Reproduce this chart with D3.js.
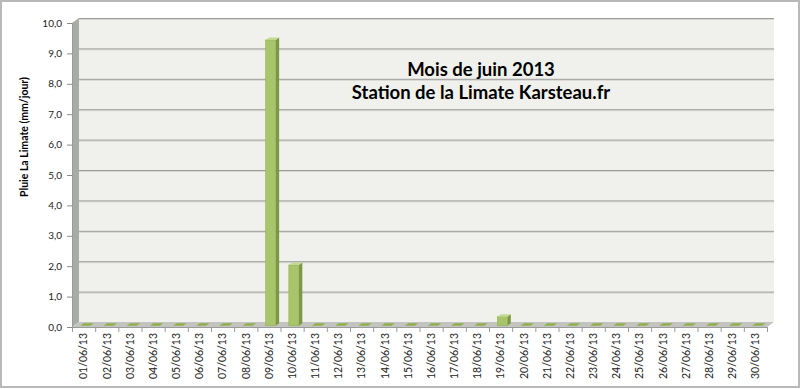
<!DOCTYPE html>
<html>
<head>
<meta charset="utf-8">
<script src="https://cdn.jsdelivr.net/npm/d3@7"></script>
<style>
  body { margin: 0; background: #fff; }
  svg { display: block; font-family: Lato, "Open Sans", sans-serif; }
</style>
</head>
<body>
<div id="chart"></div>
<script>
// Daily rain, June 2013
const days = ["01/06/13", "02/06/13", "03/06/13", "04/06/13", "05/06/13", "06/06/13",
  "07/06/13", "08/06/13", "09/06/13", "10/06/13", "11/06/13", "12/06/13",
  "13/06/13", "14/06/13", "15/06/13", "16/06/13", "17/06/13", "18/06/13",
  "19/06/13", "20/06/13", "21/06/13", "22/06/13", "23/06/13", "24/06/13",
  "25/06/13", "26/06/13", "27/06/13", "28/06/13", "29/06/13", "30/06/13"];
const rain = [0, 0, 0, 0, 0, 0, 0, 0, 9.4, 2.0, 0, 0, 0, 0, 0, 0, 0, 0,
  0.3, 0, 0, 0, 0, 0, 0, 0, 0, 0, 0, 0];
const yTicks = [0, 1, 2, 3, 4, 5, 6, 7, 8, 9, 10];
const titleLines = ["Mois de juin 2013", "Station de la Limate Karsteau.fr"];
const yTitle = "Pluie La Limate (mm/jour)";

const W = 800, H = 389;
const depthX = 7, depthY = -5; // 3D depth offset of the back wall

const svg = d3.select("#chart").append("svg")
    .attr("width", W)
    .attr("height", H);

// outer frame
svg.append("rect")
    .attr("x", 1).attr("y", 1)
    .attr("width", W - 2).attr("height", H - 3)
    .attr("fill", "#fff")
    .attr("stroke", "#b9b9b9")
    .attr("stroke-width", 2);

const x = d3.scaleBand().domain(days).range([72, 767]);
const y = d3.scaleLinear().domain([0, 10]).range([327, 23]);

const x0 = x.range()[0], x1 = x.range()[1];
const yb = v => y(v) + depthY; // back wall y

// side wall (left)
svg.append("polygon")
    .attr("points", [[x0, y(0)], [x0, y(10)], [x0 + depthX, yb(10)], [x0 + depthX, yb(0)]].join(" "))
    .attr("fill", "#a9aca5");

// back wall
svg.append("rect")
    .attr("x", x0 + depthX).attr("y", yb(10))
    .attr("width", x1 - x0).attr("height", yb(0) - yb(10))
    .attr("fill", "#f0f1ed");

// gridlines on back wall
const grid = svg.append("g");
yTicks.filter(d => d > 0).forEach(v => {
    grid.append("line")
        .attr("x1", x0 + depthX).attr("x2", x1 + depthX)
        .attr("y1", yb(v) + 1.5).attr("y2", yb(v) + 1.5)
        .attr("stroke", "#d6d7d3").attr("stroke-width", 1);
    grid.append("line")
        .attr("x1", x0 + depthX).attr("x2", x1 + depthX)
        .attr("y1", yb(v) + 0.5).attr("y2", yb(v) + 0.5)
        .attr("stroke", "#9c9d9a").attr("stroke-width", 1);
});

// floor
svg.append("polygon")
    .attr("points", [[x0, y(0)], [x1, y(0)], [x1 + depthX, yb(0)], [x0 + depthX, yb(0)]].join(" "))
    .attr("fill", "#c3c4bf");

// y axis ticks and labels
const yAxis = svg.append("g");
yTicks.forEach(v => {
    yAxis.append("line")
        .attr("x1", x0 - 5).attr("x2", x0)
        .attr("y1", y(v) + 0.5).attr("y2", y(v) + 0.5)
        .attr("stroke", "#8c8c8c");
    yAxis.append("text")
        .attr("x", 62)
        .attr("y", y(v) + 3.5)
        .attr("text-anchor", "end")
        .attr("font-size", "10px")
        .attr("fill", "#222")
        .text(d3.format(".1f")(v).replace(".", ","));
});
yAxis.append("line")
    .attr("x1", x0 + 0.5).attr("x2", x0 + 0.5)
    .attr("y1", y(10)).attr("y2", y(0))
    .attr("stroke", "#9a9a9a");

// x axis ticks and labels
const xAxis = svg.append("g");
xAxis.append("line")
    .attr("x1", x0).attr("x2", x1)
    .attr("y1", y(0) + 0.5).attr("y2", y(0) + 0.5)
    .attr("stroke", "#9a9a9a");
days.concat([null]).forEach((d, i) => {
    const xt = d === null ? x1 : x(d);
    xAxis.append("line")
        .attr("x1", xt + 0.5).attr("x2", xt + 0.5)
        .attr("y1", y(0)).attr("y2", y(0) + 5)
        .attr("stroke", "#9a9a9a");
});
days.forEach(d => {
    const cx = x(d) + x.bandwidth() / 2 + 3.8;
    xAxis.append("text")
        .attr("transform", `translate(${cx},333) rotate(-90)`)
        .attr("text-anchor", "end")
        .attr("font-size", "10.5px")
        .attr("fill", "#222")
        .text(d);
});

// 3D columns
const barW = x.bandwidth() * 0.43;
const tF = 0.25, tB = 0.75; // front / back depth fraction of the bar
const bars = svg.append("g");
days.forEach((d, i) => {
    const v = rain[i];
    const xl = x(d) + x.bandwidth() / 2 - barW / 2 + depthX * tF;
    const xr = xl + barW;
    const yBot = y(0) + depthY * tF;
    const yTop = y(v) + depthY * tF;
    const ddx = depthX * (tB - tF), ddy = depthY * (tB - tF);
    if (v > 0) {
        // side face
        bars.append("polygon")
            .attr("points", [[xr, yBot], [xr, yTop], [xr + ddx, yTop + ddy], [xr + ddx, yBot + ddy]].join(" "))
            .attr("fill", "#7d9844");
        // front face
        bars.append("rect")
            .attr("x", xl).attr("y", yTop)
            .attr("width", barW).attr("height", yBot - yTop)
            .attr("fill", "#a9c56b")
            .attr("stroke", "#93b055").attr("stroke-width", 0.6);
    }
    // top face
    bars.append("polygon")
        .attr("points", [[xl, yTop], [xr, yTop], [xr + ddx, yTop + ddy], [xl + ddx, yTop + ddy]].join(" "))
        .attr("fill", v > 0 ? "#c2d98f" : "#8fae4c");
});

// title
svg.append("g").selectAll("text")
    .data(titleLines)
    .join("text")
    .attr("x", 481)
    .attr("y", (d, i) => 76 + i * 23)
    .attr("text-anchor", "middle")
    .attr("font-size", "18.5px")
    .attr("font-weight", "bold")
    .attr("fill", "#000")
    .text(d => d);

// y axis title
svg.append("text")
    .attr("transform", "translate(28,137) rotate(-90)")
    .attr("text-anchor", "middle")
    .attr("font-size", "10.5px")
    .attr("font-weight", "bold")
    .attr("fill", "#000")
    .text(yTitle);
</script>
</body>
</html>
